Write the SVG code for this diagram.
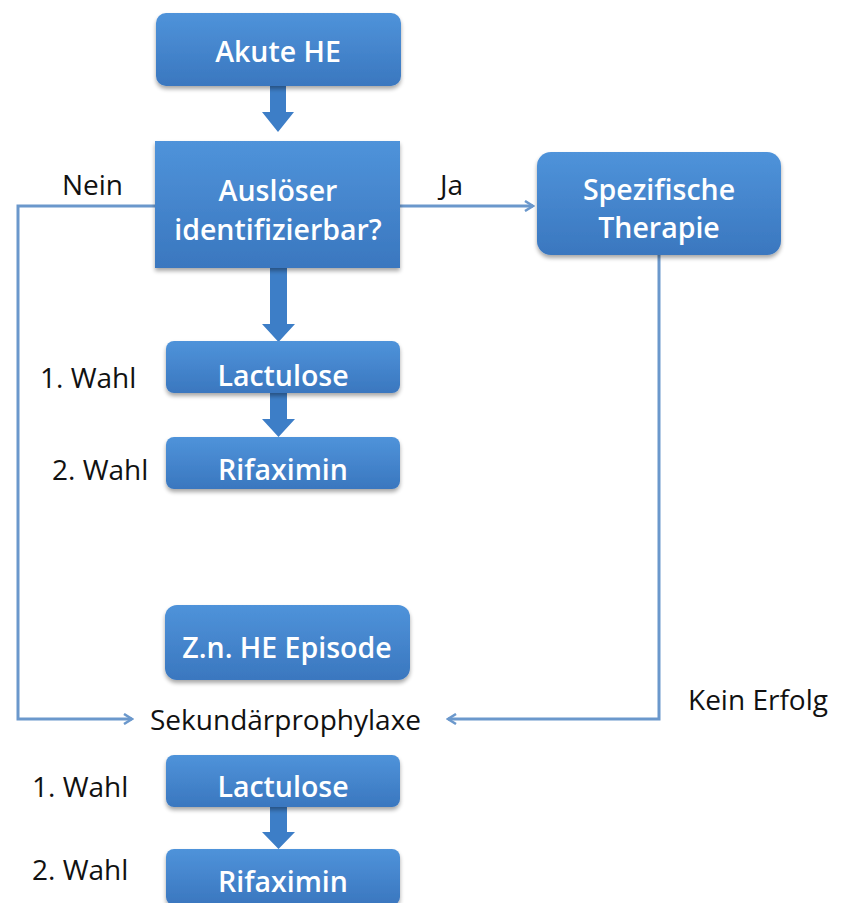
<svg xmlns="http://www.w3.org/2000/svg" width="847" height="903" viewBox="0 0 847 903">
<defs>
<linearGradient id="g" x1="0" y1="0" x2="0" y2="1">
<stop offset="0" stop-color="#4f93da"/>
<stop offset="1" stop-color="#3a77bf"/>
</linearGradient>
<filter id="sh" x="-10%" y="-10%" width="120%" height="130%">
<feGaussianBlur in="SourceAlpha" stdDeviation="2"/>
<feOffset dx="0" dy="3"/>
<feComponentTransfer><feFuncA type="linear" slope="0.35"/></feComponentTransfer>
<feMerge><feMergeNode/><feMergeNode in="SourceGraphic"/></feMerge>
</filter>
<marker id="ah" viewBox="0 0 12 12" refX="10" refY="6" markerWidth="12" markerHeight="12" markerUnits="userSpaceOnUse" orient="auto">
<path d="M2,1 L10,6 L2,11" fill="none" stroke="#6b98cc" stroke-width="2.5"/>
</marker>
</defs>
<style>
.box{fill:url(#g);filter:url(#sh);}
.bt{font-family:"Open Sans","Liberation Sans",sans-serif;font-size:28.5px;font-weight:600;fill:#ffffff;text-anchor:middle;}
.lt{font-family:"Open Sans","Liberation Sans",sans-serif;font-size:28px;fill:#111111;}
.ln{fill:none;stroke:#6b98cc;stroke-width:3;}
.ba{fill:#3d7ec7;}
</style>
<rect width="847" height="903" fill="#ffffff"/>
<g id="connectors">
<path class="ba" d="M270,86 L286,86 L286,112 L294,112 L278,132 L262,112 L270,112 Z"/>
<path class="ba" d="M270,268 L287,268 L287,324 L295,324 L278.5,342 L262,324 L270,324 Z"/>
<path class="ba" d="M270,393 L287,393 L287,419 L295,419 L278.5,437 L262,419 L270,419 Z"/>
<path class="ba" d="M270,807 L287,807 L287,832 L295,832 L278.5,849 L262,832 L270,832 Z"/>
<path class="ln" d="M155,206 L18,206 L18,719 L132,719" marker-end="url(#ah)"/>
<path class="ln" d="M400,206 L533,206" marker-end="url(#ah)"/>
<path class="ln" d="M659,254 L659,719 L448,719" marker-end="url(#ah)"/>
</g>
<g id="n-akute">
<rect class="box" x="156" y="13" width="245" height="73" rx="10"/>
<text class="bt" x="278" y="62">Akute HE</text>
</g>
<g id="n-ausloeser">
<rect class="box" x="155" y="141" width="245" height="127"/>
<text class="bt" x="278" y="201">Auslöser</text>
<text class="bt" x="278" y="240">identifizierbar?</text>
</g>
<g id="n-spezifisch">
<rect class="box" x="537" y="152" width="244" height="103" rx="14"/>
<text class="bt" x="659" y="200">Spezifische</text>
<text class="bt" x="659" y="238">Therapie</text>
</g>
<g id="n-lactulose1">
<rect class="box" x="166" y="341" width="234" height="52" rx="8"/>
<text class="bt" x="283" y="386">Lactulose</text>
</g>
<g id="n-rifaximin1">
<rect class="box" x="166" y="437" width="234" height="52" rx="8"/>
<text class="bt" x="283" y="480">Rifaximin</text>
</g>
<g id="n-zn">
<rect class="box" x="165" y="605" width="245" height="75" rx="12"/>
<text class="bt" x="287" y="658">Z.n. HE Episode</text>
</g>
<g id="n-lactulose2">
<rect class="box" x="166" y="755" width="234" height="52" rx="8"/>
<text class="bt" x="283" y="797">Lactulose</text>
</g>
<g id="n-rifaximin2">
<rect class="box" x="166" y="849" width="234" height="56" rx="8"/>
<text class="bt" x="283" y="892">Rifaximin</text>
</g>
<g id="labels">
<text class="lt" x="62" y="195">Nein</text>
<text class="lt" x="40" y="388">1. Wahl</text>
<text class="lt" x="52" y="480">2. Wahl</text>
<text class="lt" x="440" y="195">Ja</text>
<text class="lt" x="150" y="730">Sekundärprophylaxe</text>
<text class="lt" x="688" y="710">Kein Erfolg</text>
<text class="lt" x="32" y="797">1. Wahl</text>
<text class="lt" x="32" y="880">2. Wahl</text>
</g>
</svg>
